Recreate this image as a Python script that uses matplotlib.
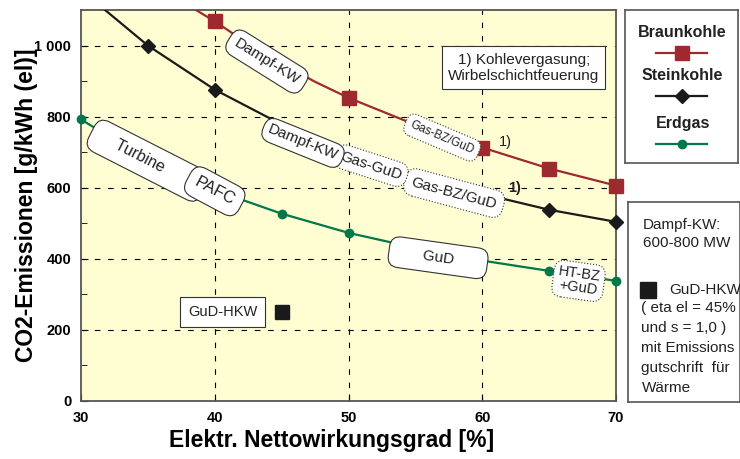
import matplotlib.pyplot as plt

plt.rcParams['font.family'] = ['Liberation Sans', 'DejaVu Sans']

# Braunkohle (lignite)
bk_x = [40, 50, 60, 65, 70]
bk_y = [1068, 853, 713, 654, 606]
bk_line_x = [38.6, 40, 42.5, 45, 47.5, 50, 55, 60, 65, 70]
bk_line_y = [1100, 1068, 1005, 950, 898, 853, 777, 713, 654, 606]

# Steinkohle (hard coal)
sk_x = [35, 40, 65, 70]
sk_y = [1000, 876, 538, 504]
sk_line_x = [31.8, 35, 40, 45, 50, 55, 60, 65, 70]
sk_line_y = [1100, 1000, 876, 778, 700, 636, 583, 538, 504]

# Erdgas (natural gas)
eg_x = [30, 45, 50, 65, 70]
eg_y = [792, 527, 473, 366, 338]
eg_line_x = [30, 35, 40, 45, 50, 55, 60, 65, 70]
eg_line_y = [792, 678, 593, 527, 473, 431, 395, 366, 338]

# GuD-HKW point
hkw_x = [45]
hkw_y = [250]

y_ticks = [0, 200, 400, 600, 800, 1000]
y_ticklabels = ['0', '200', '400', '600', '800', '1 000']
x_ticks = [30, 40, 50, 60, 70]

red = '#9E2A2F'
green = '#00784A'
black = '#1a1a1a'

fig = plt.figure(figsize=(7.4, 4.59), dpi=100)
ax = fig.add_axes([81/740, 58/459, 535/740, 391/459])
ax.set_facecolor('#FFFDD2')

ax.plot(bk_line_x, bk_line_y, color=red, lw=1.6, zorder=3)
ax.plot(bk_x, bk_y, 's', color=red, ms=10, zorder=3, clip_on=False)
ax.plot(sk_line_x, sk_line_y, color=black, lw=1.6, zorder=3)
ax.plot(sk_x, sk_y, 'D', color=black, ms=7, zorder=3, clip_on=False)
ax.plot(eg_line_x, eg_line_y, color=green, lw=1.6, zorder=3)
ax.plot(eg_x, eg_y, 'o', color=green, ms=6, zorder=3, clip_on=False)
ax.plot(hkw_x, hkw_y, 's', color=black, ms=10, zorder=3)

ax.set_xlim(30, 70)
ax.set_ylim(0, 1100)
ax.set_xticks(x_ticks)
ax.set_yticks(y_ticks)
ax.set_yticklabels(y_ticklabels)
ax.set_yticks(range(100, 1100, 200), minor=True)
ax.tick_params(direction='in', length=5, labelsize=10.5, pad=7)
ax.tick_params(axis='y', which='minor', direction='in', length=4)
for lab in ax.get_xticklabels() + ax.get_yticklabels():
    lab.set_fontweight('bold')
for s in ax.spines.values():
    s.set_color('#555555')
    s.set_linewidth(1.3)

for gx in [40, 50, 60]:
    ax.axvline(gx, color='black', lw=0.8, ls=(0, (5, 7)), zorder=1)
for gy in [200, 400, 600, 800, 1000]:
    ax.axhline(gy, color='black', lw=0.8, ls=(0, (5, 7)), zorder=1)

ax.set_xlabel('Elektr. Nettowirkungsgrad [%]', fontsize=16.5, fontweight='bold', va='center')
ax.set_ylabel('CO2-Emissionen [g/kWh (el)]', fontsize=16.5, fontweight='bold', va='center')
ax.xaxis.set_label_coords(0.469, -0.102)
ax.yaxis.set_label_coords(-0.102, 0.50)


def label(x, y, s, rot, fs=11, ls='-', pad=0.45, z=5):
    ax.text(x, y, s, rotation=rot, rotation_mode='anchor', ha='center', va='center',
            fontsize=fs, color='#222222', zorder=z, linespacing=1.0,
            bbox=dict(boxstyle='round,pad=%s,rounding_size=0.7' % pad, fc='white',
                      ec='#333333', lw=0.8, ls=ls))


label(43.9, 955, 'Dampf-KW', -32)
label(57.0, 741, 'Gas-BZ/GuD', -23, fs=8.5, ls=':')
label(57.9, 585, 'Gas-BZ/GuD', -15, ls=':')
label(51.7, 662, 'Gas-GuD', -18, ls=':', pad=0.35, z=6)
label(46.6, 726, 'Dampf-KW', -22, pad=0.35, z=7)
label(35.0, 676, '    Turbine        ', -27, fs=11.5, pad=0.6)
label(40.0, 590, 'PAFC', -28, fs=12, pad=0.5)
label(56.7, 403, '      GuD      ', -8, pad=0.55)
label(67.2, 338, 'HT-BZ\n+GuD', -8, fs=10.5, ls=':', pad=0.3)

ax.text(61.7, 730, '1)', fontsize=10.5, color='#222222', ha='center', va='center', zorder=5)
ax.text(62.4, 600, '1)', fontsize=10.5, fontweight='bold', color='#222222',
        ha='center', va='center', zorder=5)

ax.text(40.6, 251, 'GuD-HKW', fontsize=10.5, color='#222222', ha='center', va='center', zorder=5,
        bbox=dict(boxstyle='square,pad=0.55', fc='white', ec='#333333', lw=0.8))

ax.text(63.1, 937, '1) Kohlevergasung;\nWirbelschichtfeuerung', fontsize=11, color='#222222',
        ha='center', va='center', zorder=5, linespacing=1.25,
        bbox=dict(boxstyle='square,pad=0.4', fc='white', ec='#333333', lw=0.8))

# legend box
lax = fig.add_axes([625/740, (459-163)/459, 113/740, 153/459])
lax.set_xlim(0, 1)
lax.set_ylim(0, 1)
lax.set_xticks([])
lax.set_yticks([])
for s in lax.spines.values():
    s.set_color('#555555')
    s.set_linewidth(1.2)
leg_items = [('Braunkohle', red, 's', 10), ('Steinkohle', black, 'D', 7), ('Erdgas', green, 'o', 6)]
leg_y = [0.856, 0.575, 0.261]
for (name, c, m, ms), yy in zip(leg_items, leg_y):
    lax.text(0.51, yy, name, fontsize=11.5, fontweight='bold', color='#222222', ha='center', va='center')
    lax.plot([0.27, 0.5, 0.73], [yy - 0.135] * 3, color=c, lw=1.6, marker=m, ms=ms, markevery=[1])

# info box
iax = fig.add_axes([628/740, (459-402)/459, 112/740, 200/459])
iax.set_xlim(0, 1)
iax.set_ylim(0, 1)
iax.set_xticks([])
iax.set_yticks([])
for s in iax.spines.values():
    s.set_color('#555555')
    s.set_linewidth(1.2)
iax.plot([0.18], [0.56], 's', color=black, ms=11)
info_lines = ['Dampf-KW:', '600-800 MW', 'GuD-HKW', '( eta el = 45%', 'und s = 1,0 )',
              'mit Emissions', 'gutschrift  für', 'Wärme']
info_x = [0.13, 0.13, 0.37, 0.12, 0.12, 0.12, 0.12, 0.12]
info_y = [0.885, 0.795, 0.56, 0.47, 0.37, 0.27, 0.17, 0.07]
for t, xx, yy in zip(info_lines, info_x, info_y):
    iax.text(xx, yy, t, fontsize=11, color='#222222', va='center', clip_on=True)

fig.savefig('out.png', dpi=100)
